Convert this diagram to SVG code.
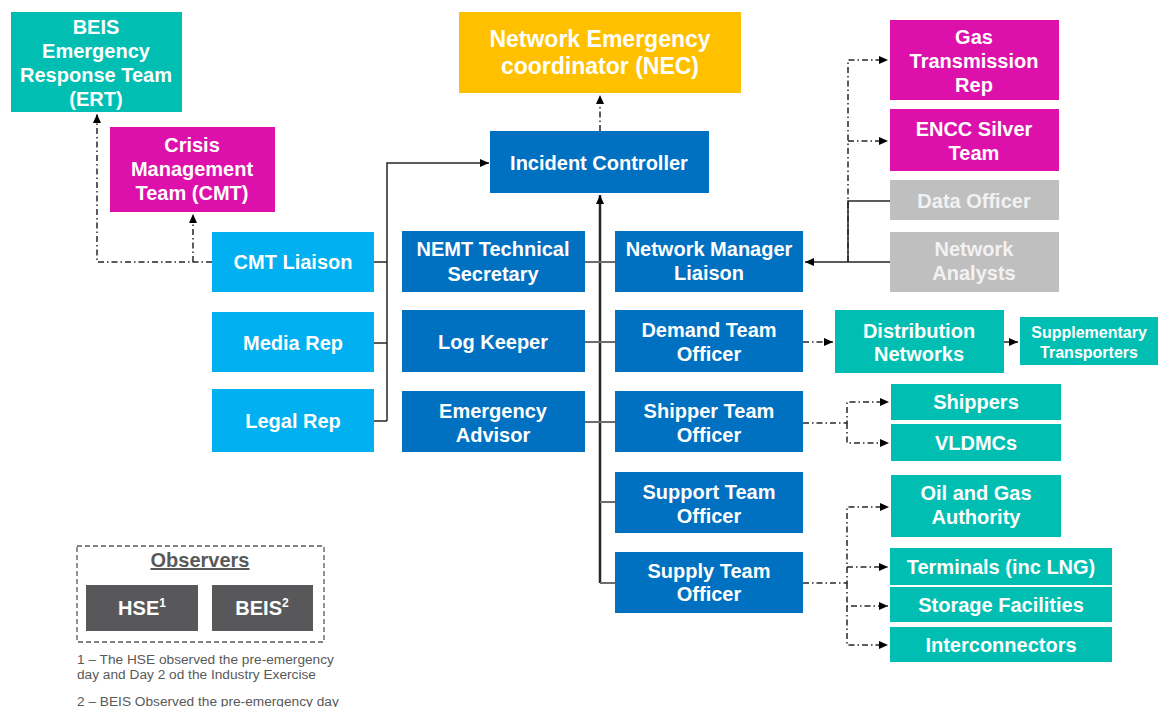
<svg xmlns="http://www.w3.org/2000/svg" width="1158" height="707" viewBox="0 0 1158 707">
<style>
text{font-family:"Liberation Sans",Arial,sans-serif;font-weight:bold;text-anchor:middle;fill:#ffffff;font-size:20px}
.nec{font-size:23px}
.sm{font-size:16px}
.gr{fill:#f2f2f2}
.teal{fill:#00bfb2}
.mag{fill:#dd10ab}
.dblue{fill:#0070c0}
.lblue{fill:#00b0f0}
.grey{fill:#bfbfbf}
.obs{fill:#58585a}
.c{fill:none;stroke:#262626;stroke-width:1.5}
.dd{fill:none;stroke:#262626;stroke-width:1.5;stroke-dasharray:6 3 1.5 3}
.br{fill:none;stroke:#6d6d6d;stroke-width:2}
.note{font-weight:normal;font-size:13.7px;fill:#595959;text-anchor:start}
</style>
<defs>
<marker id="ah" markerUnits="userSpaceOnUse" markerWidth="9" markerHeight="8" refX="9" refY="4" orient="auto">
<path d="M0,0 L9,4 L0,8 z" fill="#000"/>
</marker>
</defs>
<rect width="1158" height="707" fill="#ffffff"/>
<g id="connectors">
<path class="dd" d="M212,262 H97 V114" marker-end="url(#ah)"/>
<path class="dd" d="M193,262 V214" marker-end="url(#ah)"/>
<path class="c" d="M374,262 H387 M374,343 H387 M374,421 H387"/>
<path class="c" d="M387,421 V163 H489" marker-end="url(#ah)"/>
<path class="dd" d="M600,131 V95" marker-end="url(#ah)"/>
<path class="c" style="stroke-width:2.5" d="M600,583 V195" marker-end="url(#ah)"/>
<path class="br" d="M585,262 H615 M585,342 H615 M585,422 H615"/>
<path class="br" d="M600,502 H615 M600,583 H615"/>
<path class="c" d="M890,262 H805" marker-end="url(#ah)"/>
<path class="c" d="M890,201 H848 V262"/>
<path class="dd" d="M848,262 V60 H888" marker-end="url(#ah)"/>
<path class="dd" d="M848,141 H888" marker-end="url(#ah)"/>
<path class="dd" d="M803,342 H833" marker-end="url(#ah)"/>
<path class="c" d="M1004,342 H1018" marker-end="url(#ah)"/>
<path class="dd" d="M803,423 H847 V402 H889" marker-end="url(#ah)"/>
<path class="dd" d="M847,423 V443 H889" marker-end="url(#ah)"/>
<path class="dd" d="M803,583 H847 V507 H889" marker-end="url(#ah)"/>
<path class="dd" d="M847,567 H888" marker-end="url(#ah)"/>
<path class="dd" d="M847,583 V606 H888" marker-end="url(#ah)"/>
<path class="dd" d="M847,606 V645 H888" marker-end="url(#ah)"/>
</g>
<g id="ert"><rect class="teal" x="11" y="12" width="171" height="100"/><text x="96" y="34">BEIS</text><text x="96" y="58">Emergency</text><text x="96" y="82">Response Team</text><text x="96" y="106">(ERT)</text></g>
<g id="cmt"><rect class="mag" x="110" y="127" width="165" height="85"/><text x="192" y="152">Crisis</text><text x="192" y="176">Management</text><text x="192" y="200">Team (CMT)</text></g>
<g id="nec"><rect fill="#ffc000" x="459" y="12" width="282" height="81"/><text class="nec" x="600" y="47">Network Emergency</text><text class="nec" x="600" y="74">coordinator (NEC)</text></g>
<g id="ic"><rect class="dblue" x="490" y="131" width="219" height="62"/><text x="599" y="170">Incident Controller</text></g>
<g id="cmtl"><rect class="lblue" x="212" y="232" width="162" height="60"/><text x="293" y="269">CMT Liaison</text></g>
<g id="media"><rect class="lblue" x="212" y="312" width="162" height="60"/><text x="293" y="350">Media Rep</text></g>
<g id="legal"><rect class="lblue" x="212" y="389" width="162" height="63"/><text x="293" y="428">Legal Rep</text></g>
<g id="nemt"><rect class="dblue" x="402" y="231" width="183" height="61"/><text x="493" y="256">NEMT Technical</text><text x="493" y="281">Secretary</text></g>
<g id="log"><rect class="dblue" x="402" y="310" width="183" height="62"/><text x="493" y="349">Log Keeper</text></g>
<g id="ea"><rect class="dblue" x="402" y="391" width="183" height="61"/><text x="493" y="418">Emergency</text><text x="493" y="442">Advisor</text></g>
<g id="nml"><rect class="dblue" x="615" y="231" width="188" height="61"/><text x="709" y="256">Network Manager</text><text x="709" y="280">Liaison</text></g>
<g id="demand"><rect class="dblue" x="615" y="310" width="188" height="62"/><text x="709" y="337">Demand Team</text><text x="709" y="361">Officer</text></g>
<g id="shipper"><rect class="dblue" x="615" y="391" width="188" height="61"/><text x="709" y="418">Shipper Team</text><text x="709" y="442">Officer</text></g>
<g id="support"><rect class="dblue" x="615" y="472" width="188" height="61"/><text x="709" y="499">Support Team</text><text x="709" y="523">Officer</text></g>
<g id="supply"><rect class="dblue" x="615" y="552" width="188" height="61"/><text x="709" y="578">Supply Team</text><text x="709" y="601">Officer</text></g>
<g id="gtr"><rect class="mag" x="890" y="20" width="169" height="80"/><text x="974" y="44">Gas</text><text x="974" y="68">Transmission</text><text x="974" y="92">Rep</text></g>
<g id="encc"><rect class="mag" x="890" y="109" width="169" height="62"/><text x="974" y="136">ENCC Silver</text><text x="974" y="160">Team</text></g>
<g id="data"><rect class="grey" x="890" y="180" width="169" height="40"/><text class="gr" x="974" y="208">Data Officer</text></g>
<g id="analysts"><rect class="grey" x="890" y="232" width="169" height="60"/><text class="gr" x="974" y="256">Network</text><text class="gr" x="974" y="280">Analysts</text></g>
<g id="dist"><rect class="teal" x="835" y="310" width="169" height="63"/><text x="919" y="338">Distribution</text><text x="919" y="361">Networks</text></g>
<g id="supp"><rect class="teal" x="1020" y="317" width="138" height="48"/><text class="sm" x="1089" y="338">Supplementary</text><text class="sm" x="1089" y="358">Transporters</text></g>
<g id="shippers"><rect class="teal" x="891" y="384" width="170" height="36"/><text x="976" y="409">Shippers</text></g>
<g id="vldmcs"><rect class="teal" x="891" y="424" width="170" height="37"/><text x="976" y="450">VLDMCs</text></g>
<g id="oga"><rect class="teal" x="891" y="475" width="170" height="62"/><text x="976" y="500">Oil and Gas</text><text x="976" y="524">Authority</text></g>
<g id="terminals"><rect class="teal" x="890" y="548" width="222" height="37"/><text x="1001" y="574">Terminals (inc LNG)</text></g>
<g id="storage"><rect class="teal" x="890" y="587" width="222" height="35"/><text x="1001" y="612">Storage Facilities</text></g>
<g id="interconnectors"><rect class="teal" x="890" y="627" width="222" height="35"/><text x="1001" y="652">Interconnectors</text></g>
<g id="observers">
<rect x="77" y="546" width="247" height="96" fill="none" stroke="#595959" stroke-width="1.3" stroke-dasharray="5 3"/>
<text x="200" y="567" style="fill:#595959;text-decoration:underline">Observers</text>
</g>
<g id="hse"><rect class="obs" x="86" y="585" width="112" height="46"/><text x="142" y="615">HSE<tspan font-size="12" dy="-8">1</tspan></text></g>
<g id="beis"><rect class="obs" x="212" y="585" width="101" height="46"/><text x="262" y="615">BEIS<tspan font-size="12" dy="-8">2</tspan></text></g>
<g id="notes">
<text class="note" x="77" y="664">1 – The HSE observed the pre-emergency</text>
<text class="note" x="77" y="679">day and Day 2 od the Industry Exercise</text>
<text class="note" x="77" y="706">2 – BEIS Observed the pre-emergency day</text>
</g>
</svg>
